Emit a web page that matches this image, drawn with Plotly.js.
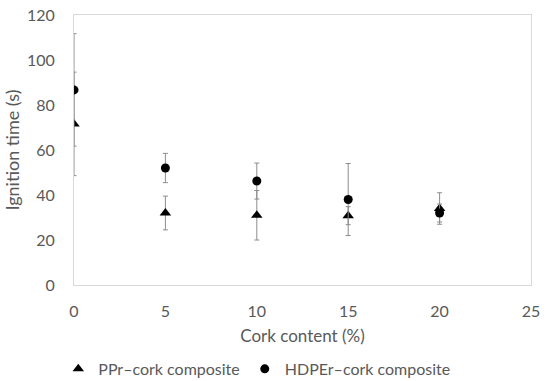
<!DOCTYPE html>
<html><head><meta charset="utf-8">
<script src="https://cdn.plot.ly/plotly-3.0.1.min.js"></script>
<style>html,body{margin:0;padding:0;background:#fff}#chart{width:550px;height:381px}</style>
</head><body><div id="chart"></div>
<script>
const cork = [0, 5, 10, 15, 20];
const ppr = [71.6, 32, 31, 30.8, 34];
const pprErr = [23, 7.5, 11, 4, 7];
const hdpe = [86.7, 52, 46.2, 38, 32];
const hdpeErr = [25, 6.5, 8, 16, 4];
const xTicks = [0, 5, 10, 15, 20, 25];
const yTicks = [0, 20, 40, 60, 80, 100, 120];

const errStyle = {type: 'data', visible: true, color: '#8c8c8c', thickness: 1, width: 2.5};
const traces = [
  {x: cork, y: ppr, name: 'PPr\u2013cork composite', mode: 'markers', type: 'scatter',
   marker: {symbol: 'triangle-up', size: 10, color: '#000'},
   error_y: Object.assign({array: pprErr}, errStyle)},
  {x: cork, y: hdpe, name: 'HDPEr\u2013cork composite', mode: 'markers', type: 'scatter',
   marker: {symbol: 'circle', size: 9, color: '#000'},
   error_y: Object.assign({array: hdpeErr}, errStyle)}
];
const font = {family: 'Lato, "Open Sans", sans-serif', color: '#595959', size: 16};
const layout = {
  width: 550, height: 381,
  margin: {l: 74, r: 19, t: 15, b: 96, autoexpand: false},
  paper_bgcolor: '#fff', plot_bgcolor: '#fff',
  font: font,
  showlegend: true,
  xaxis: {range: [0, 25], tickvals: xTicks, ticktext: xTicks.map(String), showgrid: false, zeroline: false,
    showline: true, mirror: true, linecolor: '#d9d9d9', linewidth: 1, ticks: '',
    tickfont: {size: 16, color: '#595959'}, ticklabelstandoff: 12,
    title: {text: 'Cork content (%)', font: {size: 17, color: '#595959'}, standoff: 10}},
  yaxis: {range: [0, 120], tickvals: yTicks, ticktext: yTicks.map(String), showgrid: false, zeroline: false,
    showline: true, mirror: true, linecolor: '#d9d9d9', linewidth: 1, ticks: '',
    tickfont: {size: 16, color: '#595959'}, ticklabelstandoff: 15,
    title: {text: 'Ignition time (s)', font: {size: 18, color: '#595959'}, standoff: 2}},
  legend: {orientation: 'h', x: 0.40, xanchor: 'center', y: -0.311, yanchor: 'middle',
    font: {size: 16, color: '#595959'}, itemwidth: 30}
};
Plotly.newPlot('chart', traces, layout, {displayModeBar: false, staticPlot: true});
</script></body></html>
